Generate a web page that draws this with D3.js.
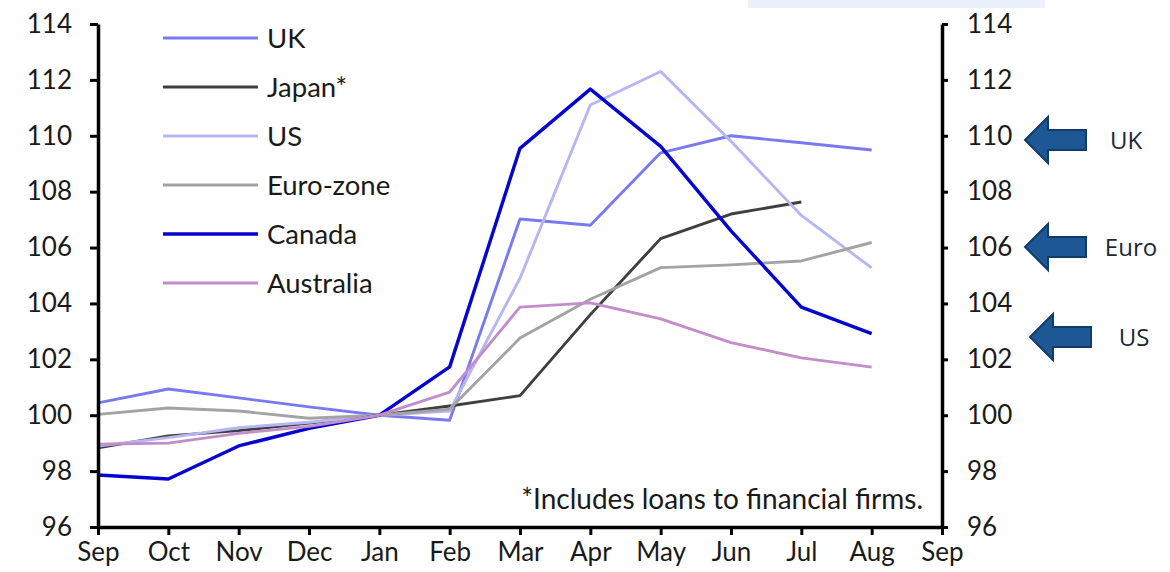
<!DOCTYPE html>
<html>
<head>
<meta charset="utf-8">
<script src="https://cdn.jsdelivr.net/npm/d3@7"></script>
<style>
  html, body { margin: 0; padding: 0; background: #ffffff; }
  svg { display: block; }
  .tick text { font-family: Lato, "Noto Sans", sans-serif; fill: #1a1a1a; }
</style>
</head>
<body>
<svg id="chart" width="1170" height="572"></svg>
<script>
// Month labels along the bottom (Sep to Sep, one tick per month)
const months = ["Sep", "Oct", "Nov", "Dec", "Jan", "Feb", "Mar", "Apr", "May", "Jun", "Jul", "Aug", "Sep"];

// Bank lending index, Jan = 100
const ukValues        = [100.44, 100.94, 100.62, 100.30, 100, 99.82, 107.02, 106.80, 109.39, 110.00, 109.75, 109.49];
const japanValues     = [98.83, 99.26, 99.45, 99.72, 100, 100.33, 100.70, 103.60, 106.32, 107.20, 107.63];
const usValues        = [98.90, 99.20, 99.55, 99.75, 100, 100.15, 104.90, 111.10, 112.30, 109.80, 107.15, 105.27];
const euroValues      = [100.03, 100.26, 100.15, 99.89, 100, 100.22, 102.76, 104.15, 105.28, 105.38, 105.52, 106.18];
const canadaValues    = [97.86, 97.72, 98.90, 99.53, 100, 101.73, 109.55, 111.67, 109.62, 106.60, 103.87, 102.92];
const australiaValues = [98.96, 99.00, 99.35, 99.60, 100, 100.83, 103.87, 104.02, 103.45, 102.60, 102.05, 101.72];

const seriesNames  = ["UK", "Japan*", "US", "Euro-zone", "Canada", "Australia"];
const seriesValues = [ukValues, japanValues, usValues, euroValues, canadaValues, australiaValues];
const seriesColors = ["#7a7af0", "#3f3f3f", "#b6b6f2", "#a3a3a3", "#0505cf", "#c28ec9"];
const seriesWidths = [2.9, 2.9, 2.9, 2.9, 3.4, 2.9];

const yTicks = [96, 98, 100, 102, 104, 106, 108, 110, 112, 114];

// Side callouts pointing at the latest levels
const calloutLabels = ["UK", "Euro", "US"];
const calloutValues = [109.85, 106.02, 102.8];

const footnote = "*Includes loans to financial firms.";

const svg = d3.select("#chart");

const x = d3.scaleLinear().domain([0, months.length - 1]).range([98, 942]);
const y = d3.scaleLinear().domain([96, 114]).range([527, 24]);

// Pale band at the top edge
svg.append("rect")
  .attr("x", 748).attr("y", 0).attr("width", 297).attr("height", 8)
  .attr("fill", "#ebf1fa");

// Series lines
const line = d3.line()
  .x((d, i) => x(i))
  .y(d => y(d));

const lines = svg.append("g").attr("class", "lines");
seriesValues.forEach((vals, k) => {
  lines.append("path")
    .datum(vals)
    .attr("d", line)
    .attr("fill", "none")
    .attr("stroke", seriesColors[k])
    .attr("stroke-width", seriesWidths[k])
    .attr("stroke-linejoin", "round")
    .attr("stroke-linecap", "butt");
});

// Axes
const fontSize = 26;

const leftAxis = svg.append("g")
  .attr("transform", `translate(${x(0)},0)`)
  .call(d3.axisLeft(y).tickValues(yTicks).tickFormat(d3.format("d"))
    .tickSize(8).tickSizeOuter(0).tickPadding(18));

const rightAxis = svg.append("g")
  .attr("transform", `translate(${x(months.length - 1)},0)`)
  .call(d3.axisRight(y).tickValues(yTicks).tickFormat(d3.format("d"))
    .tickSize(6).tickSizeOuter(0).tickPadding(19));

const bottomAxis = svg.append("g")
  .attr("transform", `translate(0,${y(96)})`)
  .call(d3.axisBottom(x).tickValues(d3.range(months.length))
    .tickFormat(i => months[i]).tickSize(8).tickSizeOuter(0).tickPadding(8));

[leftAxis, rightAxis, bottomAxis].forEach(g => {
  g.select(".domain").attr("stroke", "#000").attr("stroke-width", 3.5);
  g.selectAll(".tick line").attr("stroke", "#000").attr("stroke-width", 3);
  g.selectAll(".tick text").attr("font-size", fontSize).attr("fill", "#1a1a1a");
});

// Legend
const legend = svg.append("g").attr("class", "legend");
seriesNames.forEach((name, k) => {
  const ly = 38 + k * 49;
  legend.append("line")
    .attr("x1", 163).attr("x2", 258).attr("y1", ly).attr("y2", ly)
    .attr("stroke", seriesColors[k]).attr("stroke-width", seriesWidths[k] + 0.3);
  legend.append("text")
    .attr("x", 267).attr("y", ly).attr("dy", "0.36em")
    .attr("font-family", "Lato, 'Noto Sans', sans-serif")
    .attr("font-size", 27.5).attr("fill", "#1a1a1a")
    .text(name);
});

// Footnote
svg.append("text")
  .attr("x", 923).attr("y", 509).attr("text-anchor", "end")
  .attr("font-family", "Lato, 'Noto Sans', sans-serif")
  .attr("font-size", 28).attr("fill", "#1a1a1a")
  .text(footnote);

// Callout arrows
const callouts = svg.append("g").attr("class", "callouts");
calloutLabels.forEach((label, k) => {
  const cy = y(calloutValues[k]);
  const shift = label === "US" ? 5 : 0;
  const tip = 1025 + shift, neck = 1048 + shift, tail = 1086 + shift;
  const pts = [
    [tip, cy], [neck, cy - 23], [neck, cy - 10], [tail, cy - 10],
    [tail, cy + 10], [neck, cy + 10], [neck, cy + 23]
  ];
  callouts.append("path")
    .attr("d", d3.line()(pts) + "Z")
    .attr("fill", "#1d5794")
    .attr("stroke", "#123c68")
    .attr("stroke-width", 2)
    .attr("stroke-linejoin", "miter");
  callouts.append("text")
    .attr("x", label === "Euro" ? 1131 : (label === "US" ? 1134 : 1126))
    .attr("y", cy).attr("dy", "0.36em")
    .attr("text-anchor", "middle")
    .attr("font-family", "'Open Sans', 'Noto Sans', sans-serif")
    .attr("font-size", 24).attr("fill", "#1c2738")
    .text(label);
});
</script>
</body>
</html>
